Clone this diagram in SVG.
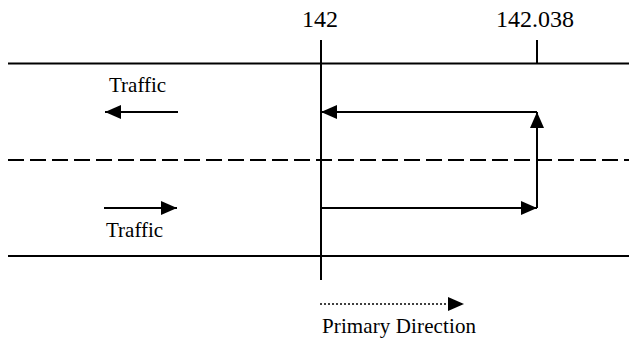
<svg xmlns="http://www.w3.org/2000/svg" width="629" height="341" viewBox="0 0 629 341">
<style>
.ln{stroke:#000;stroke-width:2;fill:none}
.dash{stroke-dasharray:16 6}
.dot{stroke-dasharray:2 2;stroke-width:1.6}
text{font-family:'Liberation Serif','Times New Roman',serif;fill:#000}
.num{font-size:24px;text-anchor:middle}
.lbl{font-size:21px}
</style>
<defs>
<marker id="ah" markerUnits="userSpaceOnUse" markerWidth="16" markerHeight="14" refX="16" refY="7" orient="auto">
<path d="M0,0 L16,7 L0,14 z" fill="#000"/>
</marker>
</defs>
<rect width="629" height="341" fill="#fff"/>
<g id="road">
<line class="ln" x1="8" y1="63.5" x2="629" y2="63.5"/>
<line class="ln dash" x1="8" y1="160" x2="629" y2="160"/>
<line class="ln" x1="8" y1="256" x2="629" y2="256"/>
</g>
<g id="markers">
<line class="ln" x1="321" y1="40" x2="321" y2="280"/>
<line class="ln" x1="537" y1="40" x2="537" y2="63.5"/>
<text class="num" x="320" y="27">142</text>
<text class="num" x="535" y="27">142.038</text>
</g>
<g id="connectors">
<line class="ln" x1="321" y1="208" x2="537" y2="208" marker-end="url(#ah)"/>
<line class="ln" x1="537" y1="208" x2="537" y2="112" marker-end="url(#ah)"/>
<line class="ln" x1="537" y1="112" x2="321" y2="112" marker-end="url(#ah)"/>
<line class="ln" x1="178" y1="112" x2="105" y2="112" marker-end="url(#ah)"/>
<line class="ln" x1="104" y1="208" x2="177" y2="208" marker-end="url(#ah)"/>
<line class="ln dot" x1="320" y1="304" x2="464" y2="304" marker-end="url(#ah)"/>
</g>
<g id="labels">
<text class="lbl" x="109" y="92">Traffic</text>
<text class="lbl" x="106" y="237">Traffic</text>
<text class="lbl" x="322" y="333" textLength="154">Primary Direction</text>
</g>
</svg>
